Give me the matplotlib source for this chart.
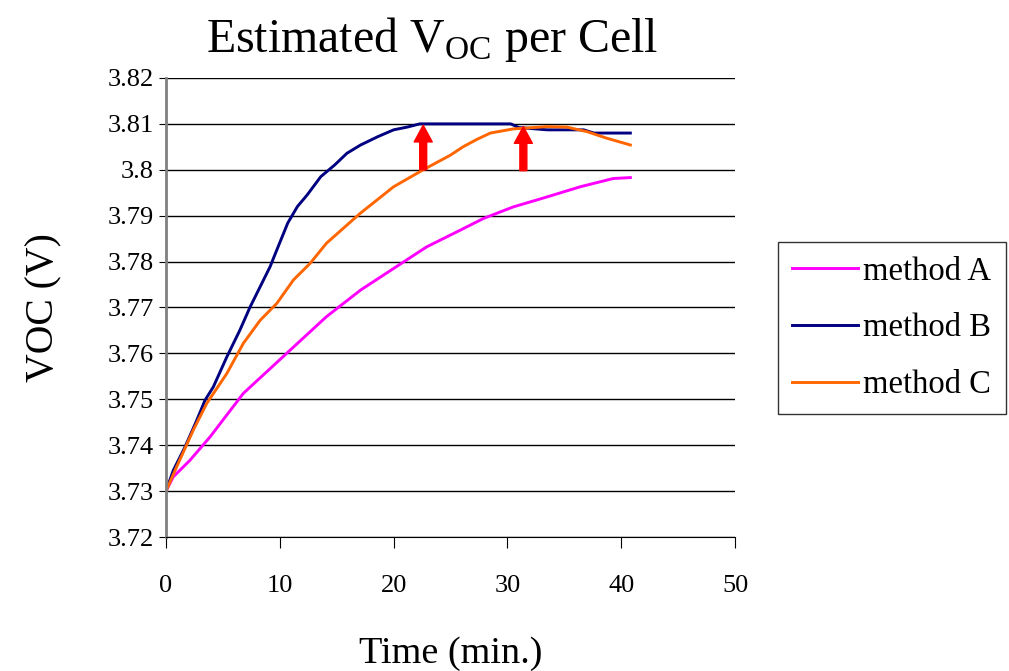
import matplotlib
matplotlib.use("Agg")
from matplotlib import pyplot as plt

plt.rcParams['font.family'] = ['Liberation Serif', 'DejaVu Serif']
plt.rcParams['mathtext.fontset'] = 'custom'
plt.rcParams['mathtext.rm'] = 'Liberation Serif'

# values
t_a = [0, 0.64, 2.1, 3.87, 6.8, 10.6, 14.1, 17.1, 20.0, 22.9, 25.9, 27.9, 30.5, 33.5, 36.4, 39.3, 40.8]
v_a = [3.730, 3.7331, 3.7367, 3.7418, 3.7513, 3.760, 3.768, 3.7738, 3.7785, 3.7832, 3.7869,
       3.7894, 3.7919, 3.7941, 3.7963, 3.7981, 3.7983]

t_b = [0, 0.64, 1.67, 2.7, 3.43, 4.16, 5.34, 6.5, 7.39, 8.27, 9.15, 9.65, 10.7, 11.55, 12.4,
       13.6, 14.8, 15.9, 17.1, 18.6, 20.0, 21.2, 22.3, 30.3, 31.0, 33.5, 36.7, 37.6, 40.8]
v_b = [3.730, 3.7345, 3.7396, 3.7454, 3.7498, 3.7527, 3.7592, 3.7651, 3.7701, 3.7745, 3.7789,
       3.782, 3.7884, 3.792, 3.7945, 3.7985, 3.801, 3.8036, 3.8054, 3.8072, 3.8087, 3.8093,
       3.810, 3.810, 3.8092, 3.8087, 3.8087, 3.808, 3.808]

t_c = [0, 0.94, 2.4, 3.58, 5.34, 6.8, 8.27, 9.74, 11.2, 12.66, 14.1, 17.06, 20.0, 22.6, 25.0,
       26.1, 27.3, 28.5, 30.5, 33.5, 35.2, 37.0, 38.7, 40.8]
v_c = [3.730, 3.7353, 3.7433, 3.7491, 3.7556, 3.7622, 3.7672, 3.7709, 3.776, 3.7796, 3.784,
       3.7905, 3.7963, 3.800, 3.8032, 3.805, 3.8066, 3.808, 3.8089, 3.8094, 3.8093, 3.8083,
       3.8069, 3.8054]

# red arrows: (time, start, end)
arrows = [(22.6, 3.800, 3.8097), (31.4, 3.7998, 3.8094)]

y_ticks = [3.72, 3.73, 3.74, 3.75, 3.76, 3.77, 3.78, 3.79, 3.80, 3.81, 3.82]
y_labels = ['3.72', '3.73', '3.74', '3.75', '3.76', '3.77', '3.78', '3.79', '3.8', '3.81', '3.82']
x_ticks = [0, 10, 20, 30, 40, 50]

fig = plt.figure(figsize=(10.09, 6.71), dpi=100)
ax = fig.add_axes([0.1645, 0.1997, 0.564, 0.6841])

ax.plot(t_a, v_a, color='#FF00FF', lw=2.1, label='method A')
ax.plot(t_b, v_b, color='#000080', lw=2.1, label='method B')
ax.plot(t_c, v_c, color='#FF6600', lw=2.1, label='method C')

for x, y0, y1 in arrows:
    ax.annotate('', xy=(x, y1), xytext=(x, y0),
                arrowprops=dict(width=5, headwidth=13, headlength=12, color='red', shrink=0))

ax.set_xlim(0, 50)
ax.set_ylim(3.72, 3.82)
ax.set_yticks(y_ticks)
ax.set_yticklabels(y_labels)
ax.set_xticks(x_ticks)
ax.tick_params(axis='both', labelsize=19, direction='out', color='black')
ax.tick_params(axis='y', length=5, pad=4)
ax.tick_params(axis='x', length=8, pad=19)
ax.yaxis.grid(True, color='black', lw=1)
ax.set_axisbelow(True)
for s in ['top', 'right']:
    ax.spines[s].set_visible(False)
ax.spines['left'].set_color('#808080')
ax.spines['left'].set_linewidth(2)
ax.spines['bottom'].set_color('black')

ax.set_title('Estimated V$_\\mathrm{OC}$ per Cell', fontsize=34.5, pad=19, x=0.468)
ax.set_ylabel('VOC (V)', fontsize=28.5, labelpad=32)
ax.set_xlabel('Time (min.)', fontsize=27.5, labelpad=29)

leg = fig.legend(loc='center left', bbox_to_anchor=(0.771, 0.511), fontsize=23.5,
                 frameon=True, fancybox=False, edgecolor='black', handlelength=2.0,
                 handletextpad=0.18, labelspacing=0.8, borderpad=0.44, borderaxespad=0)
leg.get_frame().set_linewidth(1)

fig.savefig('out.png', dpi=100)
